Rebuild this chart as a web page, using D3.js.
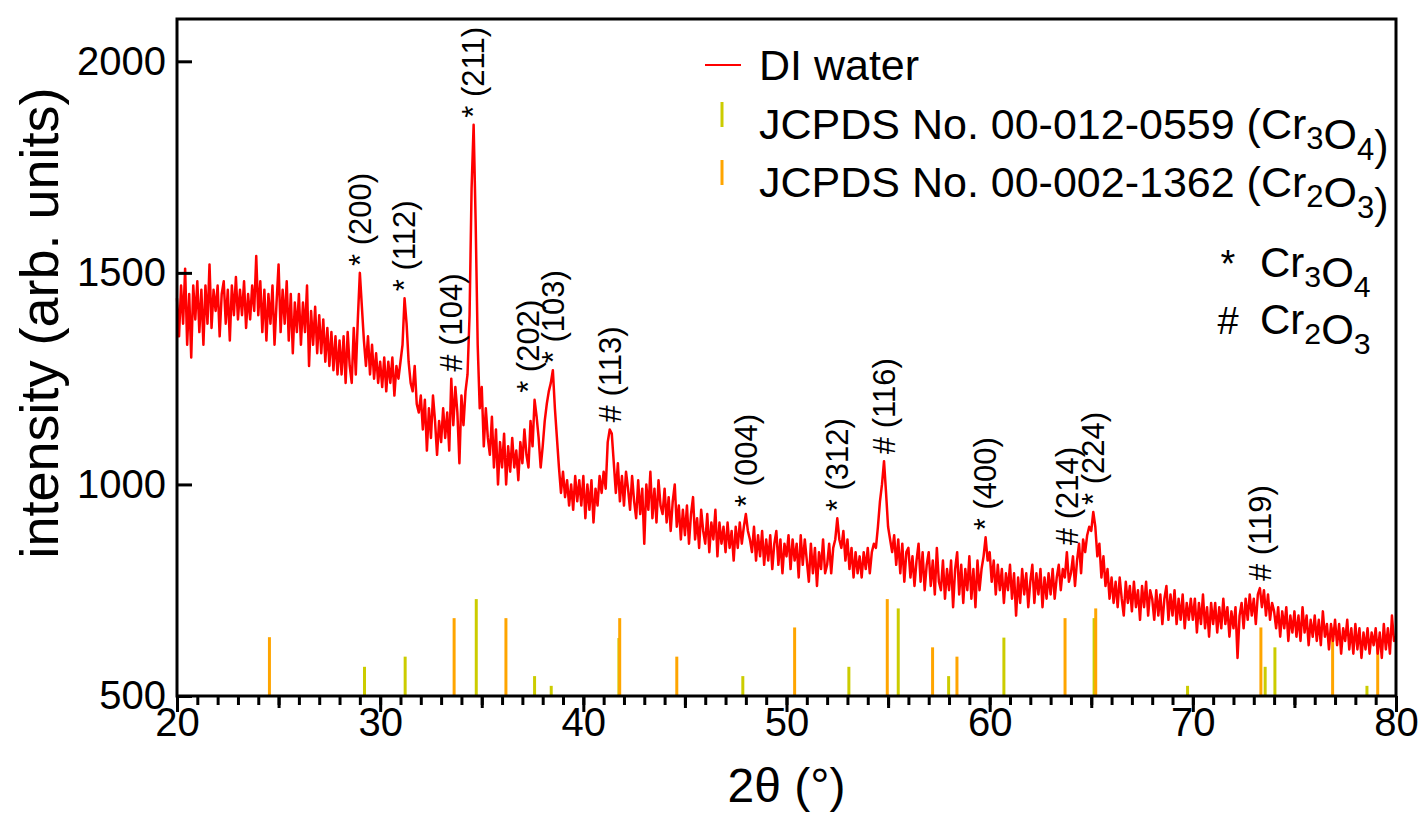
<!DOCTYPE html>
<html>
<head>
<meta charset="utf-8">
<script src="https://cdn.jsdelivr.net/npm/d3@7"></script>
<style>
  body { margin: 0; background: #fff; }
  text { font-family: "Liberation Sans", Arial, Helvetica, sans-serif; fill: #000; }
</style>
</head>
<body>
<svg id="chart" width="1423" height="813"></svg>
<script>
// XRD pattern: sample measured in DI water, sampled every 0.1° from 20° to 80°
const angleStart = 20;
const angleStep = 0.1;
const intensity = [
  1440,1350,1470,1380,1510,1330,1450,1300,1470,1390,
  1480,1360,1460,1330,1470,1380,1520,1370,1460,1410,
  1470,1350,1450,1480,1380,1460,1340,1470,1400,1490,
  1390,1460,1400,1480,1370,1450,1390,1470,1410,1540,
  1400,1480,1360,1460,1340,1450,1380,1470,1330,1430,
  1520,1360,1460,1380,1480,1340,1450,1310,1430,1360,
  1450,1330,1430,1360,1470,1280,1410,1330,1420,1310,
  1400,1310,1390,1290,1370,1280,1360,1270,1350,1260,
  1340,1260,1350,1240,1360,1280,1240,1370,1260,1390,
  1500,1420,1340,1280,1350,1260,1330,1250,1310,1240,
  1290,1230,1300,1220,1290,1240,1300,1210,1280,1250,
  1290,1330,1440,1380,1290,1240,1220,1280,1190,1170,
  1210,1130,1200,1080,1180,1110,1210,1150,1070,1150,
  1100,1180,1110,1170,1080,1250,1140,1230,1170,1050,
  1210,1140,1220,1260,1400,1700,1850,1620,1330,1180,
  1230,1090,1180,1110,1070,1160,1040,1130,1000,1100,
  1040,1120,1000,1090,1030,1110,1040,1080,1010,1100,
  1050,1130,1070,1040,1150,1090,1200,1160,1110,1040,
  1090,1150,1190,1220,1240,1270,1180,1110,1040,980,
  1030,970,1010,950,1000,940,1020,960,1010,950,
  1020,920,1000,940,1010,910,990,950,1020,980,
  1030,990,1100,1130,1120,1050,980,1050,960,1020,
  950,1030,990,940,1020,960,920,1010,930,990,
  860,1000,940,1030,920,990,910,1010,950,930,
  990,910,970,890,960,1000,900,950,870,940,
  880,950,860,930,970,870,920,850,940,890,
  860,930,840,910,870,940,830,910,860,900,
  840,910,850,890,820,900,850,910,860,900,
  930,890,870,840,900,820,880,830,890,810,
  870,820,880,800,860,890,810,870,790,860,
  830,880,800,870,820,860,780,880,810,870,
  820,770,860,790,850,760,840,800,870,790,
  810,860,790,850,870,920,870,850,890,820,
  870,800,850,780,840,790,830,780,840,800,
  850,790,840,860,850,900,960,1000,1055,980,
  900,870,840,880,810,870,790,860,770,840,
  850,780,830,760,820,860,770,840,750,810,
  840,760,820,740,850,770,750,820,730,800,
  750,820,710,800,840,740,810,720,800,750,
  830,730,800,710,820,750,800,830,875,820,
  840,770,820,740,810,750,800,720,790,750,
  810,730,790,690,780,720,800,740,790,710,
  770,810,720,790,740,800,710,780,730,790,
  740,800,730,780,810,750,800,780,840,770,
  790,830,760,820,860,790,870,840,880,900,
  890,935,900,830,860,780,830,760,800,730,
  780,720,770,710,780,730,690,770,720,760,
  700,770,710,750,680,760,710,770,690,750,
  730,680,750,690,740,670,730,760,680,740,
  690,750,670,730,680,740,660,720,680,730,
  680,730,650,720,670,740,660,710,640,720,
  670,720,650,710,660,730,670,710,640,700,
  660,710,590,690,720,660,730,680,740,690,
  730,670,740,755,710,750,690,740,680,720,
  700,660,710,640,700,660,710,630,690,650,
  700,640,690,630,710,650,690,620,680,640,
  690,630,680,620,700,640,670,610,670,630,
  680,620,670,600,660,630,680,610,660,600,
  670,610,660,590,650,610,660,600,650,620,
  660,600,650,590,670,610,660,600,690,630,
  640
];

// Reference patterns (stick positions and heights on the intensity axis)
const cr3o4Angles  = [29.23, 31.23, 34.73, 37.6, 38.42, 41.75, 47.85, 53.07, 55.5, 57.98, 60.7, 65.14, 69.74, 73.56, 74.04, 78.57];
const cr3o4Heights = [569,   593,   729,   547,  524,   637,   547,   569,   707,  547,   638,  684,   524,   569,   615,   524];
const cr2o3Angles  = [24.55, 33.64, 36.19, 41.79, 44.6, 50.4, 54.96, 57.19, 58.39, 63.71, 65.22, 73.35, 76.88, 79.1];
const cr2o3Heights = [639,   684,   684,   684,   593,  662,  729,   615,   593,   684,   707,   662,   662,   615];

// Indexed reflections
const peakAngles = [29.0, 31.2, 33.5, 34.6, 37.6, 38.5, 41.3, 48.0, 52.5, 54.8, 59.8, 63.8, 65.1, 73.3];
const peakLabels = ["* (200)", "* (112)", "# (104)", "* (211)", "* (202)", "* (103)", "# (113)",
                    "* (004)", "* (312)", "# (116)", "* (400)", "# (214)", "* (224)", "# (119)"];

const xMajorTicks = [20, 30, 40, 50, 60, 70, 80];
const yTicks = [500, 1000, 1500, 2000];

const legendNames = ["DI water", "JCPDS No. 00-012-0559 (Cr_3O_4)", "JCPDS No. 00-002-1362 (Cr_2O_3)"];
const phaseMarks = ["*", "#"];
const phaseNames = ["Cr_3O_4", "Cr_2O_3"];

const colors = { sample: "#ff0000", cr3o4: "#cccc00", cr2o3: "#ffa500" };

const svg = d3.select("#chart");
const W = 1423, H = 813;
const m = { left: 177, right: 27, top: 19, bottom: 117 };

const x = d3.scaleLinear().domain([20, 80]).range([m.left, W - m.right]);
const y = d3.scaleLinear().domain([500, 2100]).range([H - m.bottom, m.top]);

const points = intensity.map((v, i) => [angleStart + i * angleStep, v]);

// Stick patterns
function sticks(angles, heights, color) {
  svg.append("g").selectAll("line")
    .data(angles.map((a, i) => [a, heights[i]]))
    .join("line")
    .attr("x1", d => x(d[0])).attr("x2", d => x(d[0]))
    .attr("y1", y(500)).attr("y2", d => y(d[1]))
    .attr("stroke", color).attr("stroke-width", 3);
}
sticks(cr3o4Angles, cr3o4Heights, colors.cr3o4);
sticks(cr2o3Angles, cr2o3Heights, colors.cr2o3);

// Measured pattern
svg.append("path")
  .datum(points)
  .attr("fill", "none")
  .attr("stroke", colors.sample)
  .attr("stroke-width", 2.5)
  .attr("stroke-linejoin", "round")
  .attr("d", d3.line().x(d => x(d[0])).y(d => y(d[1])));

// Reflection labels, placed just above the local maximum
const labelNudge = { "* (202)": -6 };
const labelG = svg.append("g");
peakAngles.forEach((a, i) => {
  const local = points.filter(p => Math.abs(p[0] - a) <= 0.25);
  const top = d3.max(local, p => p[1]);
  const px = x(a) + (labelNudge[peakLabels[i]] || 0), py = y(top) - 7;
  labelG.append("text")
    .attr("transform", `translate(${px},${py}) rotate(-90)`)
    .attr("dy", "0.35em")
    .attr("font-size", 31)
    .text(peakLabels[i]);
});

// Axes
const bottom = H - m.bottom;
function xTickLayer(values, size) {
  const g = svg.append("g").attr("transform", `translate(0,${bottom})`)
    .call(d3.axisBottom(x).tickValues(values).tickSize(size).tickFormat(""));
  g.select(".domain").remove();
  g.selectAll("line").attr("stroke-width", 3);
  return g;
}
xTickLayer(d3.range(20, 81, 1), 9);
xTickLayer(d3.range(25, 80, 10), 12);
const xMajor = svg.append("g").attr("transform", `translate(0,${bottom})`)
  .call(d3.axisBottom(x).tickValues(xMajorTicks).tickSize(16).tickPadding(-4).tickFormat(d3.format("d")));
xMajor.select(".domain").remove();
xMajor.selectAll("line").attr("stroke-width", 3);
xMajor.selectAll("text").attr("font-size", 40).attr("font-family", null);

const yAxis = svg.append("g").attr("transform", `translate(${m.left},0)`)
  .call(d3.axisLeft(y).tickValues(yTicks).tickSize(-15).tickPadding(11).tickFormat(d3.format("d")));
yAxis.select(".domain").remove();
yAxis.selectAll("line").attr("stroke-width", 3);
yAxis.selectAll("text").attr("font-size", 40).attr("font-family", null);

// Frame
svg.append("rect")
  .attr("x", m.left).attr("y", m.top)
  .attr("width", W - m.left - m.right).attr("height", H - m.top - m.bottom)
  .attr("fill", "none").attr("stroke", "#000").attr("stroke-width", 3);

// Axis titles
svg.append("text")
  .attr("x", (m.left + W - m.right) / 2).attr("y", 802)
  .attr("text-anchor", "middle").attr("font-size", 48)
  .text("2θ (°)");
svg.append("text")
  .attr("transform", `translate(58,323) rotate(-90)`)
  .attr("text-anchor", "middle").attr("font-size", 54)
  .text("intensity (arb. units)");

// Text with "_n" subscripts
function richText(sel, str, size) {
  const parts = str.split(/_(\d)/);
  parts.forEach((p, i) => {
    if (p === "") return;
    if (i % 2 === 1) {
      sel.append("tspan").attr("font-size", size * 0.72).attr("dy", size * 0.24).text(p);
      sel.append("tspan").attr("dy", -size * 0.24).text("");
    } else {
      sel.append("tspan").text(p);
    }
  });
}

// Legend
const lg = svg.append("g");
const legendBase = [80, 139, 197];
const legendKeys = ["line", "cr3o4", "cr2o3"];
legendNames.forEach((name, i) => {
  const by = legendBase[i];
  if (legendKeys[i] === "line") {
    lg.append("line").attr("x1", 705).attr("x2", 741).attr("y1", by - 15).attr("y2", by - 15)
      .attr("stroke", colors.sample).attr("stroke-width", 2);
  } else {
    lg.append("line").attr("x1", 722).attr("x2", 722).attr("y1", by - 37).attr("y2", by - 12)
      .attr("stroke", colors[legendKeys[i]]).attr("stroke-width", 3);
  }
  const t = lg.append("text").attr("x", 759).attr("y", by).attr("font-size", 43);
  richText(t, name, 43);
});

// Phase key
const phaseBase = [277, 334];
phaseMarks.forEach((mk, i) => {
  lg.append("text").attr("x", 1228).attr("y", phaseBase[i]).attr("text-anchor", "middle")
    .attr("font-size", 38).text(mk);
  const t = lg.append("text").attr("x", 1260).attr("y", phaseBase[i]).attr("font-size", 42);
  richText(t, phaseNames[i], 42);
});
</script>
</body>
</html>
